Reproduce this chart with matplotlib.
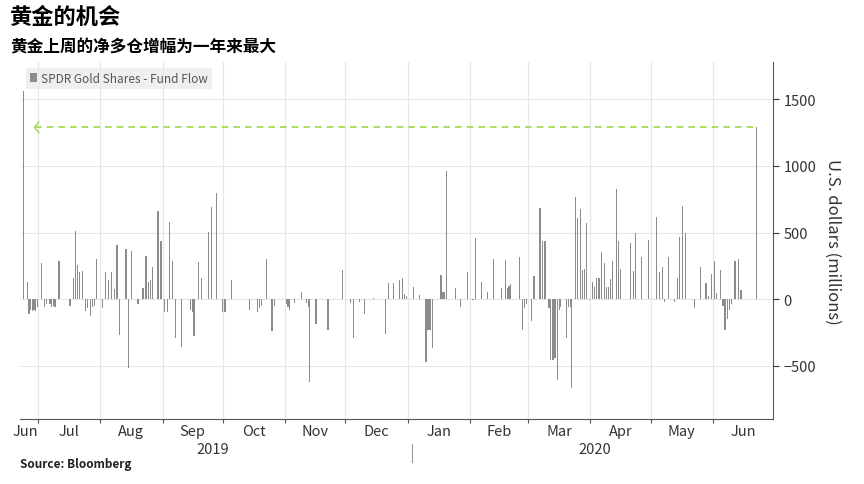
import matplotlib
matplotlib.use("Agg")
import matplotlib.pyplot as plt

plt.rcParams['font.family'] = ['Noto Sans CJK SC', 'DejaVu Sans']

# day offsets from 2019-07-01 and fund flows (USD millions)
days = [-7.3,-5.3,-4.5,-3.7,-2.8,-2.0,-1.2,-0.3,1.8,3.2,4.3,6.0,6.8,7.7,8.5,10.5,16.0,17.7,18.8,19.8,20.7,22.3,23.5,24.7,26.0,27.2,28.2,29.3,32.2,33.5,35.2,36.5,38.0,39.3,40.7,43.8,45.2,46.7,49.8,52.3,53.8,55.2,56.0,57.0,59.8,61.2,63.0,64.3,65.5,66.8,68.5,71.3,76.0,76.8,77.7,80.0,81.3,84.7,86.3,88.7,91.8,92.7,93.5,96.5,105.2,109.3,110.2,111.3,113.8,116.5,
        117.8,123.7,124.5,125.3,127.8,131.0,133.6,134.5,135.3,138.4,144.4,151.4,155.5,156.9,160.0,162.7,167.2,173.0,174.3,177.1,180.1,181.5,182.5,183.3,187.1,190.1,193.1,194.1,195.1,196.2,200.6,201.6,202.4,203.4,207.9,210.5,213.7,216.5,217.8,220.8,223.6,226.6,230.6,232.8,233.6,234.5,235.3,239.8,
        241.3,242.3,243.1,245.6,246.9,249.9,251.1,252.4,254.4,255.2,256.4,257.4,258.6,259.6,260.2,262.9,263.9,264.9,265.7,267.4,268.5,269.9,271.0,272.2,273.0,274.5,276.0,277.2,278.2,279.3,280.5,281.8,283.0,284.0,284.8,286.0,287.8,288.8,290.1,294.8,296.4,297.6,300.6,303.7,307.9,309.2,310.9,312.0,313.7,316.7,318.4,319.5,320.8,322.5,326.7,329.7,332.5,333.6,335.3,336.6,337.8,339.6,341.0,342.0,343.3,344.4,345.4,346.9,348.6,349.9,357.7]
flows = [1560,125,-110,-80,-90,-80,-90,-60,275,-60,-40,-40,-60,-50,-60,290,-50,160,510,260,200,210,-90,-70,-130,-60,-50,300,-70,200,140,200,75,410,-270,380,-520,360,-40,80,325,130,140,240,660,440,-100,-100,580,290,-290,-360,-80,-100,-280,280,155,505,695,800,-100,-100,-100,140,-80,-100,-70,-50,305,-240,
         -50,-40,-60,-80,-30,50,-30,-60,-620,-190,-230,220,-30,-290,-20,-110,10,-260,120,120,140,160,35,25,90,30,-470,-230,-230,-370,180,50,50,960,80,-60,200,-10,460,125,50,305,80,295,80,100,110,320,
         -230,-70,-40,-165,175,685,440,440,-70,-460,-460,-440,-610,-80,-60,-290,-60,-60,-670,770,610,675,220,225,570,-10,130,90,155,160,355,275,90,90,150,290,830,440,225,425,210,495,320,445,615,200,245,-20,320,-20,155,465,700,500,-70,240,120,25,190,290,45,220,-50,-230,-150,-80,-40,290,305,65,1290]

month_starts = [0,31,62,92,123,153,184,215,244,275,305,336,366]
month_labels = ['Jul','Aug','Sep','Oct','Nov','Dec','Jan','Feb','Mar','Apr','May','Jun']
yticks = [-500,0,500,1000,1500]
record = 1290

fig = plt.figure(figsize=(8.64,4.85), dpi=100)
ax = fig.add_axes([0.023,0.134,0.872,0.736])
ax.bar(days, flows, width=0.6, color='#8c8c8c', label='SPDR Gold Shares - Fund Flow', zorder=3)
ax.set_xlim(-9,366)
ax.set_ylim(-900,1780)
ax.yaxis.tick_right()
ax.yaxis.set_label_position('right')
ax.set_yticks(yticks)
ax.tick_params(axis='y', labelsize=10.5, colors='#333333', length=4)
ax.set_ylabel('U.S. dollars (millions)', rotation=270, labelpad=18, fontsize=12, color='#333333')
for s in ['top','left']:
    ax.spines[s].set_visible(False)
for s in ['bottom','right']:
    ax.spines[s].set_color('#555555')
ax.grid(axis='y', color='#e6e6e6', lw=0.8, zorder=0)
for m in month_starts[:-1]:
    ax.axvline(m, color='#e6e6e6', lw=0.8, zorder=0)
ax.set_xticks(month_starts[:-1])
ax.set_xticklabels([])
ax.tick_params(axis='x', length=3, colors='#555555')
centers = [(-9+0)/2-2] + [(month_starts[i]+month_starts[i+1])/2 for i in range(len(month_labels))]
labs = ['Jun'] + month_labels
for c, l in zip(centers, labs):
    ax.text(c, -0.015, l, transform=ax.get_xaxis_transform(), ha='center', va='top', fontsize=10.5, color='#333333')
ax.text(87, -0.065, '2019', transform=ax.get_xaxis_transform(), ha='center', va='top', fontsize=10.5, color='#333333')
ax.text(277, -0.065, '2020', transform=ax.get_xaxis_transform(), ha='center', va='top', fontsize=10.5, color='#333333')
ax.plot([186,186], [-0.07,-0.12], transform=ax.get_xaxis_transform(), color='#999999', lw=0.8, clip_on=False)
ax.plot([-1.5, 357.7], [record, record], ls=(0,(4,3)), color='#9ed84a', lw=1.2, zorder=4)
ax.plot([0.5, -1.8, 0.5], [record+40, record, record-40], color='#9ed84a', lw=1, zorder=4)
leg = ax.legend(loc='upper left', bbox_to_anchor=(0.0, 1.0), fontsize=8.5, frameon=True,
                handlelength=0.6, handleheight=0.8, borderpad=0.35, handletextpad=0.3, fancybox=False)
leg.get_frame().set_facecolor('#ececec'); leg.get_frame().set_edgecolor('none')
for t in leg.get_texts(): t.set_color('#555555')

fig.text(0.012, 0.965, '黄金的机会', fontsize=16, fontweight='bold', va='center')
fig.text(0.012, 0.902, '黄金上周的净多仓增幅为一年来最大', fontsize=12, fontweight='bold', va='center')
fig.text(0.023, 0.042, 'Source: Bloomberg', fontsize=8.5, fontweight='bold', va='center', color='#222222')
fig.savefig('out.png', dpi=100)
